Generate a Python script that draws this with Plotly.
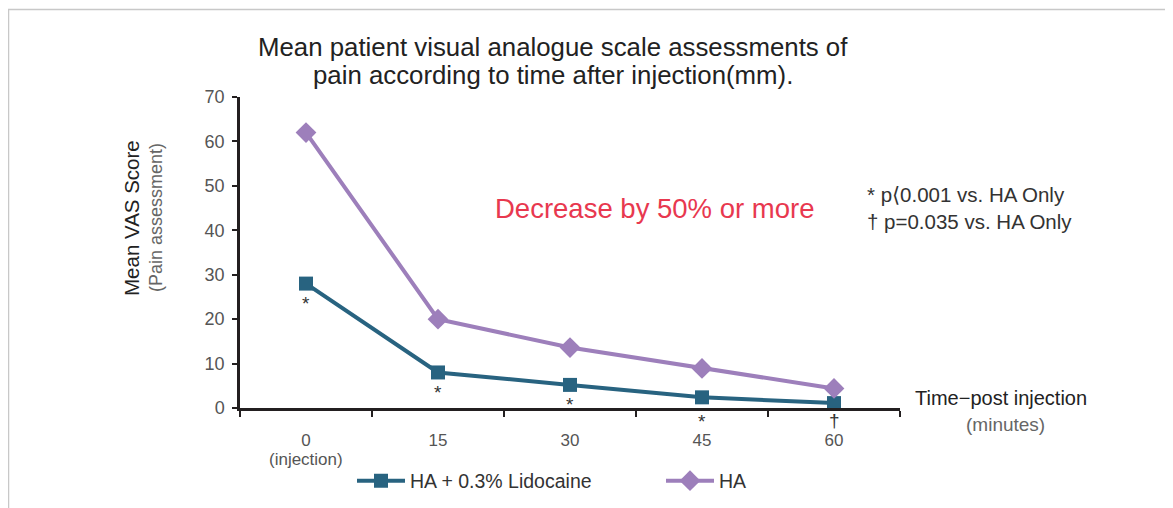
import plotly.graph_objects as go

# ---- data ----
categories = ["0", "15", "30", "45", "60"]
tick_labels = ["0", "15", "30", "45", "60"]
sub_label = "(injection)"
lidocaine = [28, 8, 5.2, 2.4, 1.1]
ha_only = [62, 20, 13.6, 8.9, 4.4]
sig_marks = ["*", "*", "*", "*", "†"]

series_names = ["HA + 0.3% Lidocaine", "HA"]
col_lido = "#286380"
col_ha = "#9d7fbb"
FONT = "Liberation Sans"

fig = go.Figure()
fig.add_trace(go.Scatter(
    x=categories, y=lidocaine, name=series_names[0], mode="lines+markers",
    line=dict(color=col_lido, width=4),
    marker=dict(symbol="square", size=14, color=col_lido),
    cliponaxis=False,
))
fig.add_trace(go.Scatter(
    x=categories, y=ha_only, name=series_names[1], mode="lines+markers",
    line=dict(color=col_ha, width=4),
    marker=dict(symbol="diamond", size=16, color=col_ha),
    cliponaxis=False,
))


# helpers: reference-pixel position -> paper fraction (plot area spans 240..900, 97..408)
def px(xp):
    return (xp - 240) / 660


def py(yp):
    return (408 - yp) / 311


def txt(x, y, text, size, color, xanchor="center", angle=0):
    return dict(x=px(x), y=py(y), xref="paper", yref="paper", text=text,
                xanchor=xanchor, yanchor="middle", textangle=angle, showarrow=False,
                font=dict(family=FONT, size=size, color=color))


annotations = []
# significance marks under the lidocaine points
for i, (v, m) in enumerate(zip(lidocaine, sig_marks)):
    if v > 4:
        annotations.append(dict(x=i, y=v, xref="x", yref="y", text=m, showarrow=False,
                                xanchor="center", yanchor="middle", yshift=-20,
                                font=dict(family=FONT, size=19, color="#333333")))
    else:
        annotations.append(dict(x=i, y=0, xref="x", yref="y", text=m, showarrow=False,
                                xanchor="center", yanchor="middle",
                                yshift=-13 if m == "*" else -12,
                                font=dict(family=FONT, size=19, color="#333333")))

annotations += [
    txt(553, 47, "Mean patient visual analogue scale assessments of", 25.8, "#222222"),
    txt(553, 75, "pain according to time after injection(mm).", 25.8, "#222222"),
    txt(131, 218, "Mean VAS Score", 20.5, "#222222", angle=-90),
    txt(156, 218, "(Pain assessment)", 18, "#666666", angle=-90),
    txt(493, 208, "Decrease by 50% or more", 27.5, "#e8384f", xanchor="left"),
    txt(865, 194, "* p⟨0.001 vs. HA Only", 20.5, "#333333", xanchor="left"),
    txt(865, 221, "† p=0.035 vs. HA Only", 20.5, "#333333", xanchor="left"),
    txt(1001, 398, "Time−post injection", 20, "#222222"),
    txt(1005, 425, "(minutes)", 19, "#666666"),
    txt(306, 459, sub_label, 17, "#555555"),
]

fig.update_layout(
    width=1165, height=500,
    margin=dict(l=232, r=273, t=89, b=100, autoexpand=False),
    paper_bgcolor="white", plot_bgcolor="white",
    showlegend=True,
    legend=dict(orientation="h", x=px(352), y=py(481),
                xanchor="left", yanchor="middle",
                font=dict(family=FONT, size=19.5, color="#333333"),
                entrywidth=246, itemwidth=48, bgcolor="rgba(0,0,0,0)"),
    xaxis=dict(type="category", range=[-0.5, 4.5], tickson="boundaries",
               tickvals=categories, ticktext=tick_labels,
               ticks="outside", ticklen=6, tickwidth=2, tickcolor="#231f20",
               showline=True, linecolor="#231f20", linewidth=2.5,
               showgrid=False, zeroline=False, ticklabelstandoff=15, automargin=False,
               tickfont=dict(family=FONT, size=17, color="#555555")),
    yaxis=dict(range=[0, 70], tickvals=[0, 10, 20, 30, 40, 50, 60, 70],
               ticks="outside", ticklen=5, tickwidth=2, tickcolor="#231f20",
               showline=True, linecolor="#231f20", linewidth=2.5,
               showgrid=False, zeroline=False, ticklabelstandoff=4, automargin=False,
               tickfont=dict(family=FONT, size=18, color="#555555")),
    annotations=annotations,
)

# light frame around the chart area
fig.add_shape(type="rect", xref="paper", yref="paper",
              x0=px(8.5), y0=py(560), x1=px(1200), y1=py(9.5),
              line=dict(color="#c8c8c8", width=1.5), layer="below")

fig.write_html("out.html")
